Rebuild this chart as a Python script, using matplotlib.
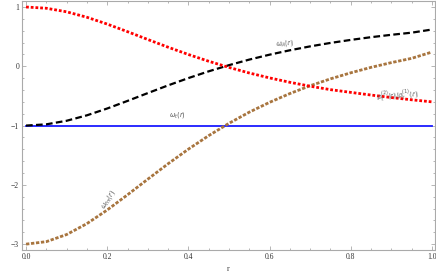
import numpy as np
import matplotlib
matplotlib.use("Agg")
import matplotlib.pyplot as plt
from matplotlib.ticker import MultipleLocator

# values
r = [0.0, 0.05, 0.1, 0.15, 0.2, 0.25, 0.3, 0.35, 0.4, 0.45, 0.5,
     0.55, 0.6, 0.65, 0.7, 0.75, 0.8, 0.85, 0.9, 0.95, 1.0]
ratio = [1.0, 0.979, 0.919, 0.827, 0.712, 0.584, 0.452, 0.322, 0.199, 0.085, -0.019,
         -0.113, -0.196, -0.270, -0.336, -0.394, -0.440, -0.485, -0.527, -0.565, -0.600]
omega_A = [-1.0, -0.979, -0.919, -0.827, -0.712, -0.584, -0.452, -0.322, -0.199, -0.085, 0.019,
           0.113, 0.196, 0.270, 0.336, 0.394, 0.445, 0.491, 0.531, 0.567, 0.620]
omega_fm = [-3.0, -2.958, -2.838, -2.654, -2.424, -2.168, -1.904, -1.644, -1.398, -1.170, -0.962,
            -0.774, -0.608, -0.460, -0.328, -0.212, -0.110, -0.018, 0.062, 0.134, 0.240]
omega_t = [-1.0] * len(r)

plt.rcParams['font.family'] = ['Liberation Serif', 'DejaVu Serif']

fig = plt.figure(figsize=(4.36, 2.73), dpi=100)
ax = fig.add_axes([0.0505, 0.084, 0.947, 0.914])

ax.plot(r, omega_t, color='#1a1aff', lw=1.3)
ax.plot(r, omega_fm, color='#a8753f', lw=2.0, ls=(0, (1.2, 0.6)))
ax.plot(r, omega_A, color='black', lw=1.6, ls=(0, (3, 1.5)))
ax.plot(r, ratio, color='red', lw=2.0, ls=(0, (1, 0.7)))

tc = '#555555'
ax.text(0.638, 0.39, r'$\omega_A(r)$', fontsize=4.8, color=tc, ha='center', va='center', rotation=4)
ax.text(0.374, -0.82, r'$\omega_t(r)$', fontsize=4.8, color=tc, ha='center', va='center')
ax.text(0.202, -2.25, r'$\omega_{fm}(r)$', fontsize=4.8, color=tc, ha='center', va='center', rotation=58)
ax.text(0.915, -0.49, r'$\rho_t^{(2)}(r)/\rho_t^{(1)}(r)$', fontsize=4.8, color=tc,
        ha='center', va='center', rotation=4)

ax.set_xlim(-0.0099, 1.0074)
ax.set_ylim(-3.10, 1.109)
ax.xaxis.set_major_locator(MultipleLocator(0.2))
ax.xaxis.set_minor_locator(MultipleLocator(0.05))
ax.yaxis.set_major_locator(MultipleLocator(1))
ax.yaxis.set_minor_locator(MultipleLocator(0.2))
ax.tick_params(which='both', direction='in', top=True, right=True, labelsize=5.5,
               labelcolor='#333333', color='#999999', width=0.5, pad=2)
ax.tick_params(which='major', length=3)
ax.tick_params(which='minor', length=1.5)
ax.set_xticks([0, 0.2, 0.4, 0.6, 0.8, 1.0])
ax.set_xticklabels(['0.0', '0.2', '0.4', '0.6', '0.8', '1.0'])
ax.set_yticks([-3, -2, -1, 0, 1])
ax.set_yticklabels(['\u22123', '\u22122', '\u22121', '0', '1'])
for s in ax.spines.values():
    s.set_color('#aaaaaa')
    s.set_linewidth(0.8)
ax.set_xlabel('r', fontsize=5.5, color='#333333', labelpad=3)

fig.savefig('out.png', dpi=100)
